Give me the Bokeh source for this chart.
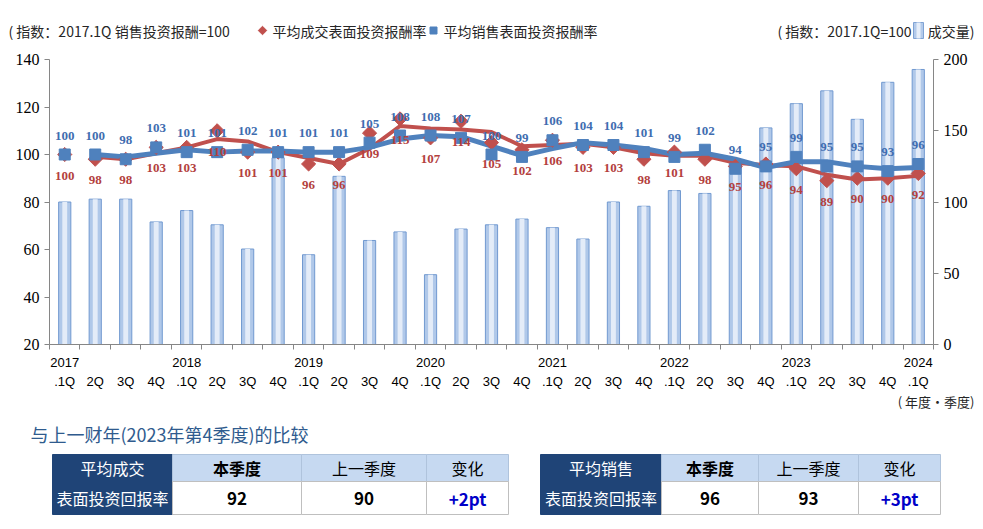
from bokeh.plotting import figure
from bokeh.models import Range1d, LinearAxis, FixedTicker
from bokeh.embed import file_html
from bokeh.resources import INLINE
from bokeh.core.properties import value

# ---------------- data ----------------
quarters = ["2017\n.1Q", " \n2Q", " \n3Q", " \n4Q",
            "2018\n.1Q", " \n2Q", " \n3Q", " \n4Q",
            "2019\n.1Q", " \n2Q", " \n3Q", " \n4Q",
            "2020\n.1Q", " \n2Q", " \n3Q", " \n4Q",
            "2021\n.1Q", " \n2Q", " \n3Q", " \n4Q",
            "2022\n.1Q", " \n2Q", " \n3Q", " \n4Q",
            "2023\n.1Q", " \n2Q", " \n3Q", " \n4Q",
            "2024\n.1Q"]
volume = [100, 102, 102, 86, 94, 84, 67, 131, 63, 118, 73, 79, 49, 81, 84,
          88, 82, 74, 100, 97, 108, 106, 128, 152, 169, 178, 158, 184, 193]
deal_roi = [100, 98, 98, 103, 103, 110, 101, 101, 96, 96, 109, 115, 107, 114, 105,
            102, 106, 103, 103, 98, 101, 98, 95, 96, 94, 89, 90, 90, 92]
sale_roi = [100, 100, 98, 103, 101, 101, 102, 101, 101, 101, 105, 108, 108, 107, 100,
            99, 106, 104, 104, 101, 99, 102, 94, 95, 99, 95, 95, 93, 96]
left_ticks = [20, 40, 60, 80, 100, 120, 140]
right_ticks = [0, 50, 100, 150, 200]

series_names = ["平均成交表面投资报酬率", "平均销售表面投资报酬率"]
x_unit = "( 年度·季度)"
table_title = "与上一财年(2023年第4季度)的比较"
table_heads = ["本季度", "上一季度", "变化"]
table_names = [["平均成交", "表面投资回报率"], ["平均销售", "表面投资回报率"]]
this_quarter = [92, 96]
last_quarter = [90, 93]

RED = "#C0504D"
RED_T = "#B3403D"
BLUE = "#4F81BD"
BLUE_T = "#3F6DB0"
CJK = value("Noto Sans CJK SC")
SERIF = value("Liberation Serif")
W = 975

x = list(range(len(quarters)))


def moving_avg(v):
    return [(a + b) / 2 for a, b in zip(v[:-1], v[1:])]


def blank_fig(h):
    f = figure(width=W, height=h, x_range=Range1d(0, W), y_range=Range1d(h, 0),
               x_axis_type=None, y_axis_type=None, toolbar_location=None,
               output_backend="svg", min_border=0, outline_line_color=None)
    f.xgrid.visible = False
    f.ygrid.visible = False
    return f


# ---------------- header (legend) ----------------
hf = blank_fig(48)
ly = 30
hf.text(x=[8], y=[ly], text=["( 指数：2017.1Q 销售投资报酬=100"], text_font=CJK,
        text_font_size="14px", text_color="#262626", text_baseline="middle")
hf.scatter(x=[262], y=[ly], marker="square", angle=0.785, size=6, color=RED)
hf.text(x=[272], y=[ly], text=[series_names[0]], text_font=CJK,
        text_font_size="14px", text_color="#262626", text_baseline="middle")
hf.scatter(x=[433], y=[ly], marker="square", size=7, color=BLUE)
hf.text(x=[443], y=[ly], text=[series_names[1]], text_font=CJK,
        text_font_size="14px", text_color="#262626", text_baseline="middle")
hf.text(x=[974], y=[ly], text=["成交量)"], text_font=CJK, text_align="right",
        text_font_size="14px", text_color="#262626", text_baseline="middle")
hf.quad(left=[913], right=[923], top=[ly - 8], bottom=[ly + 8],
        fill_color="#B3CAEA", line_color="#7FA3D4")
hf.quad(left=[916], right=[920], top=[ly - 8], bottom=[ly + 8],
        fill_color="#E6EEF9", line_color=None)
hf.text(x=[911], y=[ly], text=["( 指数：2017.1Q=100"], text_font=CJK, text_align="right",
        text_font_size="14px", text_color="#262626", text_baseline="middle")

# ---------------- main chart ----------------
p = figure(width=W, height=344, x_range=Range1d(-0.5, 28.5), y_range=Range1d(20, 140),
           toolbar_location=None, output_backend="svg",
           min_border_left=49, min_border_right=W - 933, min_border_top=11,
           min_border_bottom=48, outline_line_color=None)
p.extra_y_ranges = {"vol": Range1d(0, 200)}
p.xgrid.visible = False
p.ygrid.visible = False

raxis = LinearAxis(y_range_name="vol")
p.add_layout(raxis, "right")

for ax, ticks in ((p.yaxis[0], left_ticks), (raxis, right_ticks)):
    ax.ticker = FixedTicker(ticks=ticks)
    ax.axis_line_color = "#868686"
    ax.major_tick_line_color = "#868686"
    ax.major_tick_out = 5
    ax.major_tick_in = 0
    ax.minor_tick_out = 0
    ax.minor_tick_in = 0
    ax.major_label_text_font = "Liberation Serif"
    ax.major_label_text_font_size = "16px"
    ax.major_label_text_color = "#000000"
    ax.major_label_standoff = 5

xa = p.xaxis[0]
xa.ticker = FixedTicker(ticks=x, minor_ticks=[i - 0.5 for i in range(len(x) + 1)])
xa.major_label_overrides = {i: q for i, q in zip(x, quarters)}
xa.axis_line_color = "#868686"
xa.major_tick_out = 0
xa.major_tick_in = 0
xa.minor_tick_out = 5
xa.minor_tick_in = 0
xa.minor_tick_line_color = "#868686"
xa.major_label_text_font = "Liberation Sans"
xa.major_label_text_font_size = "13px"
xa.major_label_text_color = "#000000"
xa.major_label_text_line_height = 1.3
xa.major_label_standoff = 5

# bars (volume, right axis)
p.vbar(x=x, top=volume, bottom=0, width=0.40, y_range_name="vol",
       fill_color="#B0C8E9", line_color="#7199D0", line_width=1)
p.vbar(x=x, top=volume, bottom=0, width=0.16, y_range_name="vol",
       fill_color="#E4ECF8", line_color=None)

# moving-average lines (2 periods)
p.line(x=x[1:], y=moving_avg(deal_roi), line_color=RED, line_width=4)
p.line(x=x[1:], y=moving_avg(sale_roi), line_color=BLUE, line_width=5)

# markers
p.scatter(x=x, y=deal_roi, marker="square", angle=0.785, size=10, color=RED)
p.scatter(x=x, y=sale_roi, marker="square", size=11, color=BLUE)

# data labels
p.text(x=x, y=sale_roi, text=[str(v) for v in sale_roi], text_font=SERIF,
       text_font_style="bold", text_font_size="13px", text_color=BLUE_T,
       text_align="center", text_baseline="middle", y_offset=-19)
p.text(x=x, y=deal_roi, text=[str(v) for v in deal_roi], text_font=SERIF,
       text_font_style="bold", text_font_size="13px", text_color=RED_T,
       text_align="center", text_baseline="middle", y_offset=21)

# ---------------- comparison tables ----------------
TOP = 392
tf = blank_fig(529 - 48 - 344)
tf.text(x=[974], y=[401 - TOP], text=[x_unit], text_font=CJK, text_font_size="13px",
        text_color="#262626", text_align="right", text_baseline="middle")
tf.text(x=[30], y=[433 - TOP], text=[table_title], text_font=CJK, text_font_size="18px",
        text_color="#2F5B8E", text_baseline="middle")

col_bounds = [[52, 172, 301, 426, 508], [540, 661, 758, 858, 940]]
row_bounds = [454 - TOP, 481 - TOP, 514 - TOP]
for t in range(2):
    cb = col_bounds[t]
    tf.quad(left=[cb[0]], right=[cb[1]], top=[row_bounds[0]], bottom=[row_bounds[2]],
            fill_color="#1F4477", line_color="#1F4477")
    tf.quad(left=cb[1:4], right=cb[2:5], top=[row_bounds[0]] * 3, bottom=[row_bounds[1]] * 3,
            fill_color="#C6D9F1", line_color="#AFC3DC")
    tf.quad(left=cb[1:4], right=cb[2:5], top=[row_bounds[1]] * 3, bottom=[row_bounds[2]] * 3,
            fill_color="#FFFFFF", line_color="#BFBFBF")
    cx = [(a + b) / 2 for a, b in zip(cb[:-1], cb[1:])]
    ym = [(row_bounds[0] + row_bounds[1]) / 2, (row_bounds[1] + row_bounds[2]) / 2]
    tf.text(x=[cx[0], cx[0]], y=ym, text=table_names[t], text_font=CJK,
            text_font_size="16px", text_color="#FFFFFF", text_align="center",
            text_baseline="middle")
    tf.text(x=[cx[1]], y=[ym[0]], text=[table_heads[0]], text_font=CJK,
            text_font_style="bold", text_font_size="16px", text_color="#000000",
            text_align="center", text_baseline="middle")
    tf.text(x=cx[2:4], y=[ym[0]] * 2, text=table_heads[1:], text_font=CJK,
            text_font_size="16px", text_color="#000000",
            text_align="center", text_baseline="middle")
    diff = this_quarter[t] - last_quarter[t]
    tf.text(x=cx[1:3], y=[ym[1]] * 2, text=[str(this_quarter[t]), str(last_quarter[t])],
            text_font=CJK, text_font_style="bold", text_font_size="17px",
            text_color="#000000", text_align="center", text_baseline="middle")
    tf.text(x=[cx[3]], y=[ym[1]], text=[f"{diff:+d}pt"], text_font=CJK,
            text_font_style="bold", text_font_size="17px", text_color="#0000C8",
            text_align="center", text_baseline="middle")

open("out.html", "w").write(file_html([hf, p, tf], INLINE))
